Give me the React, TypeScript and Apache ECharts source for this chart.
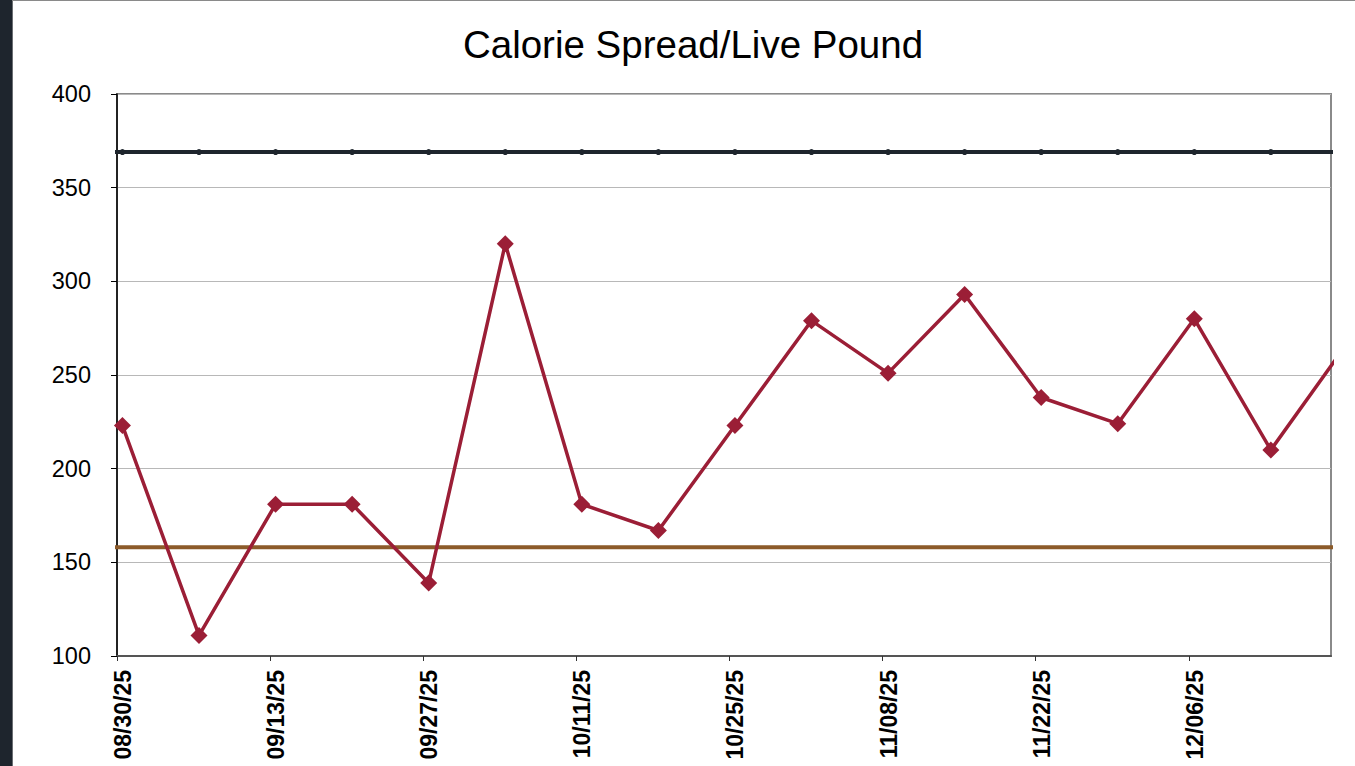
import React, { useEffect, useRef } from "react";
import * as echarts from "echarts";

// Weekly observation dates (last one falls just past the visible axis range)
const weekDates = [
  "08/30/25", "09/06/25", "09/13/25", "09/20/25", "09/27/25", "10/04/25",
  "10/11/25", "10/18/25", "10/25/25", "11/01/25", "11/08/25", "11/15/25",
  "11/22/25", "11/29/25", "12/06/25", "12/13/25", "12/20/25",
];
// Calorie spread per live pound
const calorieSpread = [223, 111, 181, 181, 139, 320, 181, 167, 223, 279, 251, 293, 238, 224, 280, 210, 267];
// Reference levels
const upperRefValue = 369;
const lowerRefValue = 158;
// dates used to extend the reference lines to the plot edges
const refDates = ["08/23/25", ...weekDates, "12/27/25"];
// x-axis tick labels (every two weeks)
const tickDates = ["08/30/25", "09/13/25", "09/27/25", "10/11/25", "10/25/25", "11/08/25", "11/22/25", "12/06/25"];

const yTicks = [100, 150, 200, 250, 300, 350, 400];

const START = new Date(2025, 7, 30).getTime();
const DAY = 86400000;
function dayOf(s: string): number {
  const [m, d, y] = s.split("/").map(Number);
  return Math.round((new Date(2000 + y, m - 1, d).getTime() - START) / DAY);
}
function toDay(s: string): number {
  return dayOf(s) + 0.5;
}
function fmtDay(v: number): string {
  const dt = new Date(START + Math.round(v) * DAY);
  const mm = String(dt.getMonth() + 1).padStart(2, "0");
  const dd = String(dt.getDate()).padStart(2, "0");
  const yy = String(dt.getFullYear() % 100).padStart(2, "0");
  return `${mm}/${dd}/${yy}`;
}

export default function App() {
  const ref = useRef<HTMLDivElement>(null);
  useEffect(() => {
    if (!ref.current) return;
    const chart = echarts.init(ref.current, undefined, { renderer: "svg" });
    const font = "'Liberation Sans', Arial, sans-serif";
    const red = "#9B1E36";
    const dark = "#1E252D";
    const brown = "#8C5B2A";
    const xMin = 0;
    const xMax = 111;
    const tickVals = tickDates.map(dayOf);
    chart.setOption({
      animation: false,
      backgroundColor: "#ffffff",
      title: {
        text: "Calorie Spread/Live Pound",
        left: 688,
        top: 20,
        textAlign: "center",
        textStyle: { fontFamily: font, fontSize: 38.5, fontWeight: "normal", color: "#000" },
      },
      graphic: [
        { type: "rect", shape: { x: 0, y: 0, width: 12, height: 766 }, style: { fill: dark }, z: 100 },
        { type: "line", shape: { x1: 12.5, y1: 0, x2: 12.5, y2: 766 }, style: { stroke: "#6b6f73", lineWidth: 1 }, z: 100 },
        { type: "line", shape: { x1: 12, y1: 0.5, x2: 1355, y2: 0.5 }, style: { stroke: "#8a8a8a", lineWidth: 1 }, z: 100 },
      ],
      grid: [
        { left: 117, right: 24, top: 94, bottom: 110, show: true, borderColor: "#8a8a8a", borderWidth: 2, backgroundColor: "#fff" },
        { left: 123, right: 18, top: 94, bottom: 110, show: false },
      ],
      xAxis: [
        {
          type: "value",
          gridIndex: 0,
          min: xMin,
          max: xMax,
          interval: 14,
          axisLine: { show: true, onZero: false, lineStyle: { color: "#555", width: 2 } },
          axisTick: { show: true, inside: false, length: 5, customValues: tickVals, lineStyle: { color: "#333", width: 1 } },
          axisLabel: { show: false },
          splitLine: { show: false },
        },
        {
          type: "value",
          gridIndex: 1,
          min: xMin,
          max: xMax,
          interval: 14,
          axisLine: { show: false },
          axisTick: { show: false },
          splitLine: { show: false },
          axisLabel: {
            show: true,
            rotate: 90,
            margin: 14,
            customValues: tickVals,
            formatter: (v: number) => fmtDay(v),
            fontFamily: font,
            fontSize: 23,
            fontWeight: "bold",
            color: "#000",
          },
        },
      ],
      yAxis: [
        {
          type: "value",
          gridIndex: 0,
          min: yTicks[0],
          max: yTicks[yTicks.length - 1],
          interval: 50,
          axisLine: { show: true, lineStyle: { color: "#000", width: 1.5 } },
          axisTick: { show: true, inside: false, length: 6, lineStyle: { color: "#000", width: 1 } },
          axisLabel: { fontFamily: font, fontSize: 23.5, color: "#000", margin: 26 },
          splitLine: { show: true, lineStyle: { color: "#b8b8b8", width: 1 } },
        },
        { type: "value", gridIndex: 1, min: 100, max: 400, show: false },
      ],
      series: [
        {
          name: "Lower",
          type: "line",
          xAxisIndex: 0,
          yAxisIndex: 0,
          clip: true,
          data: refDates.map((d) => [toDay(d), lowerRefValue]),
          showSymbol: false,
          symbol: "none",
          lineStyle: { color: brown, width: 4 },
          z: 3,
        },
        {
          name: "Upper",
          type: "line",
          xAxisIndex: 0,
          yAxisIndex: 0,
          clip: true,
          data: refDates.map((d) => [toDay(d), upperRefValue]),
          symbol: "circle",
          symbolSize: 6,
          itemStyle: { color: dark },
          lineStyle: { color: dark, width: 4 },
          z: 3,
        },
        {
          name: "Calorie Spread",
          type: "line",
          xAxisIndex: 0,
          yAxisIndex: 0,
          clip: true,
          data: weekDates.map((d, i) => [toDay(d), calorieSpread[i]]),
          symbol: "diamond",
          symbolSize: 17,
          itemStyle: { color: red },
          lineStyle: { color: red, width: 3.5 },
          z: 4,
        },
      ],
    });
    return () => chart.dispose();
  }, []);
  return (
    <div
      ref={ref}
      style={{ position: "fixed", left: 0, top: 0, width: 1355, height: 766 }}
    />
  );
}
